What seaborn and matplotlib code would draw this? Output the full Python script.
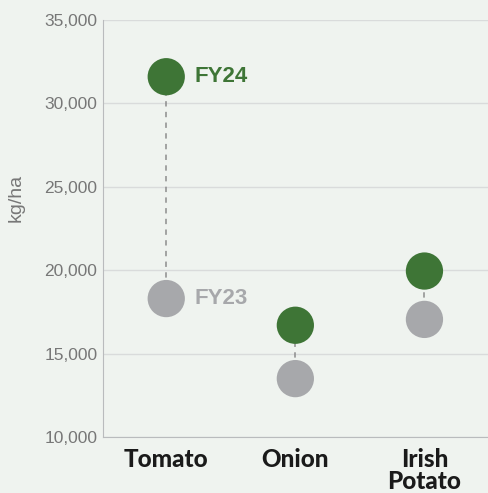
# Dumbbell chart: yield per crop, FY23 vs FY24

import matplotlib
matplotlib.use('Agg')
import matplotlib.pyplot as plt
import seaborn as sns
import pandas as pd

crops = ['Tomato', 'Onion', 'Irish\nPotato']
fy23 = [18300, 13500, 17050]
fy24 = [31600, 16700, 19950]
yticks = [10000, 15000, 20000, 25000, 30000, 35000]

bg = '#eff3ef'
green = '#3e7536'
gray = '#a7a8ab'

df = pd.DataFrame({
    'crop': crops * 2,
    'x': list(range(len(crops))) * 2,
    'kg_ha': fy23 + fy24,
    'year': ['FY23'] * len(crops) + ['FY24'] * len(crops),
})

sns.set_style('white')
plt.rcParams['font.family'] = ['Liberation Sans', 'DejaVu Sans']

fig = plt.figure(figsize=(4.89, 4.93), dpi=100, facecolor=bg)
ax = fig.add_axes([0.2106, 0.1136, 0.7894, 0.8458], facecolor=bg)

# dashed connectors
for i in range(len(crops)):
    ax.plot([i, i], [fy23[i], fy24[i]], color='#8c8c8c', lw=1.1,
            ls=(0, (3.5, 3.5)), zorder=1)

sns.scatterplot(data=df, x='x', y='kg_ha', hue='year',
                palette={'FY23': gray, 'FY24': green},
                s=720, linewidth=0, legend=False, zorder=3, ax=ax)

ax.text(0.215, fy24[0], 'FY24', color=green, fontsize=16,
        fontweight='bold', va='center', ha='left')
ax.text(0.215, fy23[0], 'FY23', color=gray, fontsize=16,
        fontweight='bold', va='center', ha='left')

ax.set_xlim(-0.49, 2.5)
ax.set_ylim(10000, 35000)
ax.set_yticks(yticks)
ax.set_yticklabels([f'{v:,}' for v in yticks], color='#777777', fontsize=12.5)
ax.set_xticks(range(len(crops)))
ax.set_xticklabels(crops, fontsize=17.5, fontweight='black', color='#1a1a1a',
                   family=['Lato', 'DejaVu Sans'], linespacing=0.92, va='top')
ax.tick_params(axis='x', length=0, pad=8)
ax.tick_params(axis='y', length=0, pad=4)

# faint separators between categories
ax.set_xticks([0.5, 1.5], minor=True)
ax.tick_params(axis='x', which='minor', direction='in', length=7,
               color='#dcdede', width=1)

ax.grid(axis='y', color='#d9dbdb', lw=1)
ax.set_axisbelow(True)
sns.despine(ax=ax, top=True, right=True)
ax.spines['left'].set_color('#b9bbbd')
ax.spines['bottom'].set_color('#b9bbbd')

ax.set_xlabel('')
ax.set_ylabel('kg/ha', color='#777777', fontsize=14)
ax.yaxis.set_label_coords(-0.202, 0.574)

fig.savefig('out.png', dpi=100, facecolor=bg)
